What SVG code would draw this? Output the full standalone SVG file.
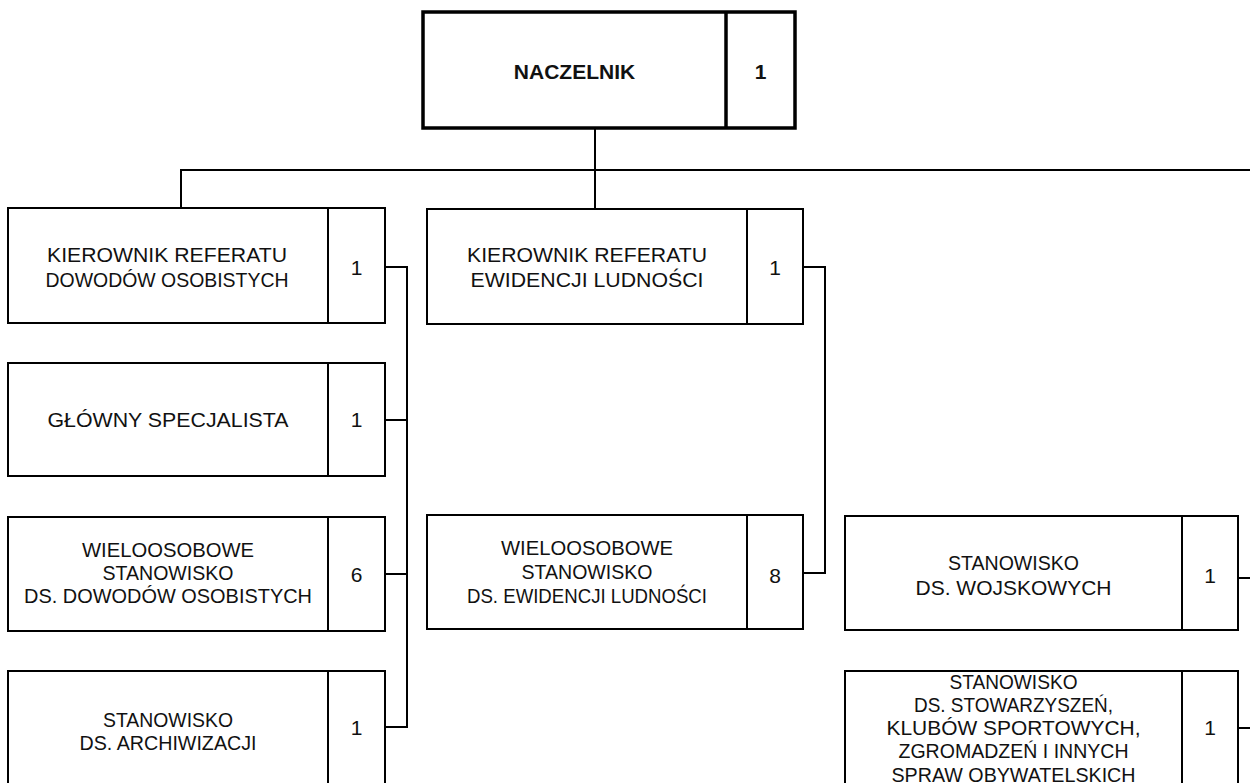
<svg xmlns="http://www.w3.org/2000/svg" width="1250" height="783" viewBox="0 0 1250 783">
<style>
.box{fill:#fff;stroke:#000;stroke-width:2}
.main{fill:#fff;stroke:#000;stroke-width:3.5}
.t{font-family:"Liberation Sans",Arial,sans-serif;font-size:21px;fill:#111;text-anchor:middle}
.b{font-weight:bold}
.c{fill:none;stroke:#000;stroke-width:2}
</style>
<rect width="1250" height="783" fill="#fff"/>
<g id="connectors">
<path class="c" d="M595 128V209M181 208V170H1250"/>
<path class="c" d="M385 267H407V727H385M407 420H385M407 574H385"/>
<path class="c" d="M803 267H825V573H803"/>
<path class="c" d="M1238 578H1250M1238 728H1250"/>
</g>
<g id="naczelnik">
<rect class="main" x="423" y="12" width="372" height="116"/>
<line class="main" x1="726" y1="12" x2="726" y2="128"/>
<text class="t b" x="574.5" y="79">NACZELNIK</text>
<text class="t b" x="760.5" y="79">1</text>
</g>
<g id="kier-dowodow">
<rect class="box" x="8" y="208" width="377" height="115"/>
<line class="box" x1="328" y1="208" x2="328" y2="323"/>
<text class="t" x="167" y="261.5" textLength="240" lengthAdjust="spacingAndGlyphs">KIEROWNIK REFERATU</text>
<text class="t" x="167" y="286.5" textLength="243" lengthAdjust="spacingAndGlyphs">DOWODÓW OSOBISTYCH</text>
<text class="t" x="356.5" y="275">1</text>
</g>
<g id="glowny">
<rect class="box" x="8" y="363" width="377" height="113"/>
<line class="box" x1="328" y1="363" x2="328" y2="476"/>
<text class="t" x="168" y="427" textLength="241" lengthAdjust="spacingAndGlyphs">GŁÓWNY SPECJALISTA</text>
<text class="t" x="356.5" y="427">1</text>
</g>
<g id="wielo-dowody">
<rect class="box" x="8" y="517" width="377" height="114"/>
<line class="box" x1="328" y1="517" x2="328" y2="631"/>
<text class="t" x="168" y="556.5" textLength="172" lengthAdjust="spacingAndGlyphs">WIELOOSOBOWE</text>
<text class="t" x="168" y="579.5" textLength="131" lengthAdjust="spacingAndGlyphs">STANOWISKO</text>
<text class="t" x="168" y="603" textLength="288" lengthAdjust="spacingAndGlyphs">DS. DOWODÓW OSOBISTYCH</text>
<text class="t" x="356.5" y="582">6</text>
</g>
<g id="archiwizacja">
<rect class="box" x="8" y="671" width="377" height="114"/>
<line class="box" x1="328" y1="671" x2="328" y2="785"/>
<text class="t" x="168" y="726.5" textLength="130" lengthAdjust="spacingAndGlyphs">STANOWISKO</text>
<text class="t" x="168" y="750" textLength="177" lengthAdjust="spacingAndGlyphs">DS. ARCHIWIZACJI</text>
<text class="t" x="356.5" y="735">1</text>
</g>
<g id="kier-ewidencji">
<rect class="box" x="427" y="209" width="376" height="115"/>
<line class="box" x1="747" y1="209" x2="747" y2="324"/>
<text class="t" x="587" y="261.5" textLength="240" lengthAdjust="spacingAndGlyphs">KIEROWNIK REFERATU</text>
<text class="t" x="587" y="287" textLength="233" lengthAdjust="spacingAndGlyphs">EWIDENCJI LUDNOŚCI</text>
<text class="t" x="775" y="275">1</text>
</g>
<g id="wielo-ewidencja">
<rect class="box" x="427" y="515" width="376" height="114"/>
<line class="box" x1="747" y1="515" x2="747" y2="629"/>
<text class="t" x="587" y="555" textLength="172" lengthAdjust="spacingAndGlyphs">WIELOOSOBOWE</text>
<text class="t" x="587" y="578.5" textLength="131" lengthAdjust="spacingAndGlyphs">STANOWISKO</text>
<text class="t" x="587" y="603" textLength="240" lengthAdjust="spacingAndGlyphs">DS. EWIDENCJI LUDNOŚCI</text>
<text class="t" x="775" y="583">8</text>
</g>
<g id="wojskowe">
<rect class="box" x="845" y="516" width="393" height="114"/>
<line class="box" x1="1182" y1="516" x2="1182" y2="630"/>
<text class="t" x="1013.5" y="570" textLength="131" lengthAdjust="spacingAndGlyphs">STANOWISKO</text>
<text class="t" x="1013.5" y="595">DS. WOJSKOWYCH</text>
<text class="t" x="1210" y="583">1</text>
</g>
<g id="stowarzyszenia">
<rect class="box" x="845" y="671" width="393" height="114"/>
<line class="box" x1="1182" y1="671" x2="1182" y2="785"/>
<text class="t" x="1013.5" y="688.5" textLength="128" lengthAdjust="spacingAndGlyphs">STANOWISKO</text>
<text class="t" x="1013.5" y="711.5" textLength="199" lengthAdjust="spacingAndGlyphs">DS. STOWARZYSZEŃ,</text>
<text class="t" x="1013.5" y="735" textLength="254" lengthAdjust="spacingAndGlyphs">KLUBÓW SPORTOWYCH,</text>
<text class="t" x="1013.5" y="758" textLength="230" lengthAdjust="spacingAndGlyphs">ZGROMADZEŃ I INNYCH</text>
<text class="t" x="1013.5" y="781.5" textLength="244" lengthAdjust="spacingAndGlyphs">SPRAW OBYWATELSKICH</text>
<text class="t" x="1210" y="735">1</text>
</g>
</svg>
